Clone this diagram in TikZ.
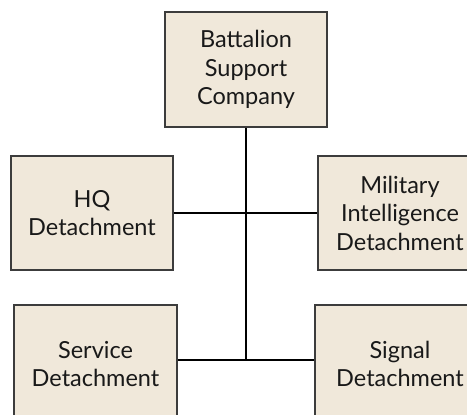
\documentclass[tikz,border=0pt]{standalone}
\usepackage{fontspec}
\setmainfont{Lato}
\definecolor{boxfill}{RGB}{240,232,218}
\definecolor{boxline}{RGB}{60,60,60}
\begin{document}
\begin{tikzpicture}[x=1pt,y=1pt,
  unit/.style={draw=boxline, line width=1.1pt, fill=boxfill, align=center,
    minimum width=162pt, minimum height=114pt, inner sep=0pt,
    font=\fontsize{23.5}{28.5}\selectfont, text=black!90},
  link/.style={line width=2.2pt, draw=black}]
\useasboundingbox (0,0) rectangle (467,415);
\clip (0,0) rectangle (467,415);
\node[unit, minimum height=115pt] (top) at (246,345.5) {Battalion\\Support\\Company};
\node[unit] (hq) at (92,202) {HQ\\Detachment};
\node[unit, minimum width=164pt] (mi) at (400,202) {Military\\Intelligence\\Detachment};
\node[unit, minimum width=163pt, minimum height=118pt] (serv) at (95.5,51) {Service\\Detachment};
\node[unit, minimum width=170pt, minimum height=118pt] (sig) at (400,51) {Signal\\Detachment};
\draw[link] (hq.east) -- (mi.west);
\draw[link] (serv.east |- 0,55) coordinate (sl) -- (sig.west |- 0,55) coordinate (sr);
\draw[link] (top.south) -- (top.south |- sl);
\end{tikzpicture}
\end{document}
